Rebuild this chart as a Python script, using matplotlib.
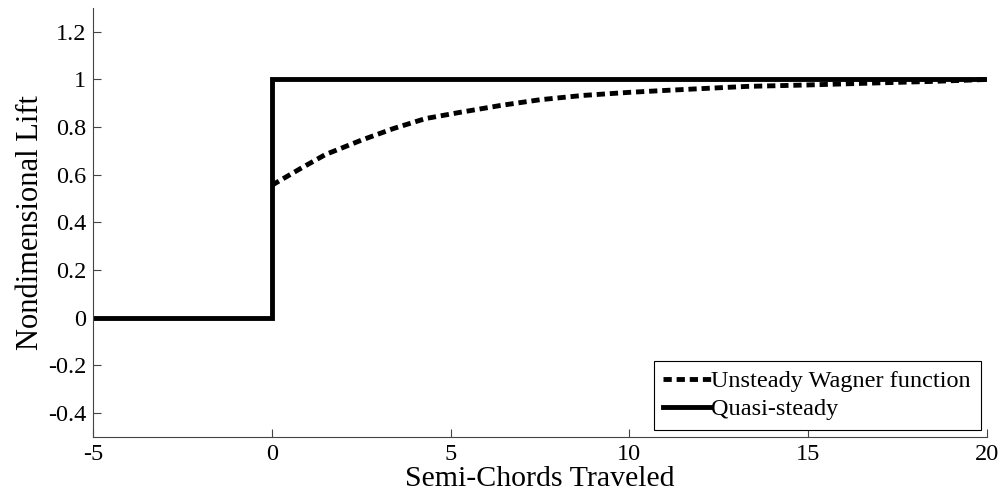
import matplotlib.pyplot as plt

# Data
quasi_x = [-5, 0, 0, 20]
quasi_y = [0, 0, 1, 1]

wagner_x = [0, 0.8, 1.5, 2.5, 3.4, 4.3, 5.3, 6.4, 7.5, 8.7, 10.0, 11.0, 12.2, 13.3, 15.0, 16.8, 18.5, 20]
wagner_y = [0.556, 0.626, 0.685, 0.745, 0.794, 0.836, 0.863, 0.891, 0.915, 0.933, 0.946, 0.954, 0.963, 0.971, 0.977, 0.985, 0.992, 1.0]

x_ticks = [-5, 0, 5, 10, 15, 20]
y_ticks = [-0.4, -0.2, 0, 0.2, 0.4, 0.6, 0.8, 1, 1.2]
y_labels = ["-0.4", "-0.2", "0", "0.2", "0.4", "0.6", "0.8", "1", "1.2"]

plt.rcParams["font.family"] = "Liberation Serif"
plt.rcParams["axes.unicode_minus"] = False

fig = plt.figure(figsize=(10.03, 4.98), dpi=100)
ax = fig.add_axes([0.0927, 0.1225, 0.8913, 0.8615])

ax.plot(wagner_x, wagner_y, color="black", lw=3.5, dashes=(1.7, 1.0),
        label="Unsteady Wagner function")
ax.plot(quasi_x, quasi_y, color="black", lw=3.5, solid_joinstyle="miter",
        label="Quasi-steady")

ax.set_xlim(-5, 20)
ax.set_ylim(-0.5, 1.3)
ax.set_xticks(x_ticks)
ax.set_yticks(y_ticks)
ax.set_yticklabels(y_labels)

# MATLAB style: no box, ticks inside
ax.spines["top"].set_visible(False)
ax.spines["right"].set_visible(False)
for s in ["left", "bottom"]:
    ax.spines[s].set_color("#444444")
    ax.spines[s].set_linewidth(0.8)

ax.tick_params(direction="in", length=6, width=0.8, color="#444444",
               labelsize=17.5, pad=5)

ax.set_xlabel("Semi-Chords Traveled", fontsize=21.5, labelpad=1)
ax.set_ylabel("Nondimensional Lift", fontsize=22, labelpad=2)

leg = ax.legend(loc="lower right", bbox_to_anchor=(0.993, 0.016),
                borderaxespad=0, fontsize=17.5, fancybox=False,
                edgecolor="black", framealpha=1, handlelength=1.95,
                handletextpad=0.02, borderpad=0.4, labelspacing=0.25)
leg.get_frame().set_linewidth(0.8)

plt.savefig("out.png", dpi=100)
